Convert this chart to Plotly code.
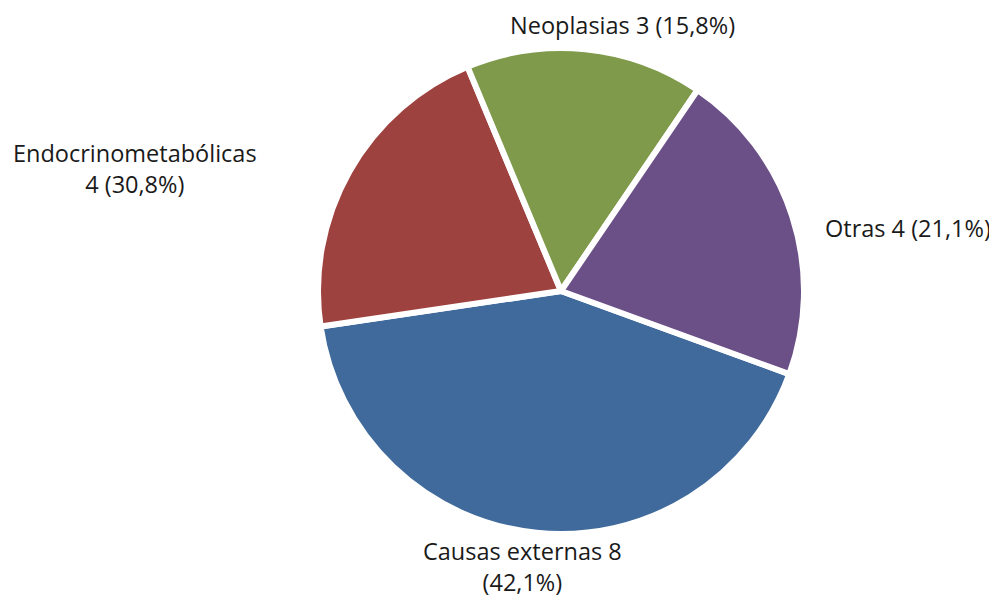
import plotly.graph_objects as go

categories = ["Causas externas", "Endocrinometabólicas", "Neoplasias", "Otras"]
values = [8, 4, 3, 4]
label_texts = ["Causas externas 8<br>(42,1%)", "Endocrinometabólicas<br>4 (30,8%)",
               "Neoplasias 3 (15,8%)", "Otras 4 (21,1%)"]
colors = ["#416a9c", "#9e4240", "#7f9a4a", "#6a5086"]

W, H = 997, 596
off = 8  # page body margin
cx, cy, r = 561 - off, 291 - off, 243

fig = go.Figure(go.Pie(
    labels=categories, values=values, sort=False, direction="clockwise",
    rotation=110, textinfo="none", hoverinfo="label+value",
    marker=dict(colors=colors, line=dict(color="white", width=6)),
    domain=dict(x=[(cx - r) / W, (cx + r) / W], y=[1 - (cy + r) / H, 1 - (cy - r) / H]),
    showlegend=False,
))

label_pos = [(522, 566), (135, 168), (622, 25), (908, 228)]
for txt, (x, y) in zip(label_texts, label_pos):
    fig.add_annotation(x=(x - off) / W, y=1 - (y - off) / H, xref="paper", yref="paper", text=txt,
                       showarrow=False, align="center", xanchor="center", yanchor="middle",
                       font=dict(family="Open Sans", size=23.5, color="#1a1a1a"))

fig.update_layout(width=W, height=H, margin=dict(l=0, r=0, t=0, b=0),
                  paper_bgcolor="white", plot_bgcolor="white")
fig.write_html("out.html")
